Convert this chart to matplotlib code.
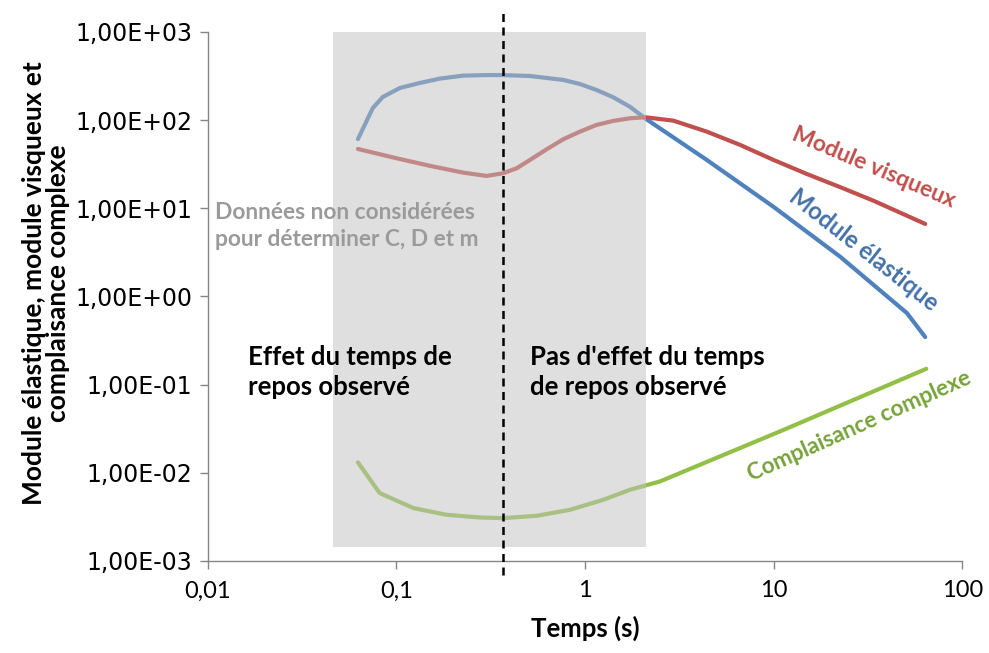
import numpy as np
import matplotlib.pyplot as plt
from matplotlib.patches import Rectangle

# ---- data ----
t_elast = [0.0626, 0.0750, 0.0847, 0.1045, 0.133, 0.17, 0.226, 0.29, 0.354, 0.511, 0.767,
           0.94, 1.15, 1.41, 1.73, 2.08, 4.42, 9.98, 22.5, 50.9, 63.6]
g_elast = [61, 137, 183, 232, 264, 296, 320, 324, 325, 317, 286,
           257, 220, 182, 142, 105, 35.4, 10.4, 2.83, 0.647, 0.346]

t_visq = [0.0626, 0.100, 0.151, 0.226, 0.301, 0.368, 0.435, 0.511, 0.627, 0.767, 0.94, 1.15,
          1.41, 1.73, 2.08, 2.94, 4.42, 6.64, 9.98, 15.0, 22.5, 33.8, 63.6]
g_visq = [47.1, 37.0, 30.3, 25.4, 23.3, 25.0, 28.5, 35.4, 46.8, 60.7, 74.1, 88.2,
          98, 105, 108, 98.7, 74.1, 52.4, 35.4, 24.5, 17.4, 12.2, 6.65]

t_compl = [0.0626, 0.0816, 0.123, 0.184, 0.277, 0.368, 0.555, 0.832, 1.25, 1.73, 2.50,
           11.3, 64.4]
j_compl = [0.0131, 0.00589, 0.00398, 0.00334, 0.00311, 0.00306, 0.00325, 0.00380, 0.00494,
           0.00641, 0.00798, 0.0307, 0.151]

zone_t = [0.046, 2.11]      # grey zone (data not considered)
zone_y = [1.45e-3, 1e3]
t_rest = 0.367              # dashed line

xticks = [0.01, 0.1, 1, 10, 100]
xtick_labels = ["0,01", "0,1", "1", "10", "100"]
yticks = [1e-3, 1e-2, 1e-1, 1e0, 1e1, 1e2, 1e3]
ytick_labels = ["1,00E-03", "1,00E-02", "1,00E-01", "1,00E+00",
                "1,00E+01", "1,00E+02", "1,00E+03"]

blue = "#4F81BD"
red = "#C0504D"
green = "#92C047"
body_font = "Lato"

fig = plt.figure(figsize=(9.89, 6.53), dpi=100)
ax = fig.add_axes([0.210, 0.141, 0.763, 0.810])

ax.plot(t_elast, g_elast, color=blue, lw=3, solid_capstyle="round",
        solid_joinstyle="round", zorder=2)
ax.plot(t_visq, g_visq, color=red, lw=3, solid_capstyle="round",
        solid_joinstyle="round", zorder=2)
ax.plot(t_compl, j_compl, color=green, lw=3, solid_capstyle="round",
        solid_joinstyle="round", zorder=2)

# grey zone drawn over the curves (semi transparent)
ax.add_patch(Rectangle((zone_t[0], zone_y[0]), zone_t[1] - zone_t[0], zone_y[1] - zone_y[0],
                       facecolor="#c0c0c0", alpha=0.5, edgecolor="none", zorder=3))

ax.axvline(t_rest, ymin=-0.026, ymax=1.043, color="black", lw=1.8,
           linestyle=(0, (3.2, 2.2)), clip_on=False, zorder=4)

ax.set_xscale("log")
ax.set_yscale("log")
ax.set_xlim(0.01, 100)
ax.set_ylim(1e-3, 1e3)
ax.set_xticks(xticks)
ax.set_xticklabels(xtick_labels, fontfamily=body_font, fontsize=17)
ax.set_yticks(yticks)
ax.set_yticklabels(ytick_labels, fontfamily="DejaVu Sans", fontsize=17)
ax.minorticks_off()

for s in ["top", "right"]:
    ax.spines[s].set_visible(False)
for s in ["left", "bottom"]:
    ax.spines[s].set_color("#868686")
    ax.spines[s].set_linewidth(1)
ax.tick_params(axis="both", direction="out", length=6, width=1, color="#868686", pad=5)
ax.tick_params(axis="x", pad=8)

ax.set_xlabel("Temps (s)", fontfamily=body_font, fontweight="bold", fontsize=18.5, labelpad=10)
ax.set_ylabel("Module élastique, module visqueux et\ncomplaisance complexe",
              fontfamily=body_font, fontweight="bold", fontsize=19,
              linespacing=1.0)
ax.yaxis.set_label_coords(-0.183, 0.525)

# annotations
ax.text(0.0109, 6.3, "Données non considérées\npour déterminer C, D et m",
        fontfamily=body_font, fontweight="bold", fontsize=16.4, color="#9a9a9a",
        va="center", ha="left", linespacing=1.3, zorder=5)
ax.text(0.0163, 0.14, "Effet du temps de\nrepos observé",
        fontfamily=body_font, fontweight="bold", fontsize=18.5, color="black",
        va="center", ha="left", linespacing=1.3, zorder=5)
ax.text(0.51, 0.14, "Pas d'effet du temps\nde repos observé",
        fontfamily=body_font, fontweight="bold", fontsize=18.5, color="black",
        va="center", ha="left", linespacing=1.3, zorder=5)

ax.text(34, 29, "Module visqueux", color=red, rotation=-23, rotation_mode="anchor",
        ha="center", va="center", fontfamily=body_font, fontweight="bold", fontsize=16.5)
ax.text(30, 3.4, "Module élastique", color="#4472A8", rotation=-38, rotation_mode="anchor",
        ha="center", va="center", fontfamily=body_font, fontweight="bold", fontsize=17)
ax.text(28.5, 0.034, "Complaisance complexe", color="#77A33A", rotation=24,
        rotation_mode="anchor", ha="center", va="center", fontfamily=body_font,
        fontweight="bold", fontsize=16.3)

fig.savefig("out.png", dpi=100)
